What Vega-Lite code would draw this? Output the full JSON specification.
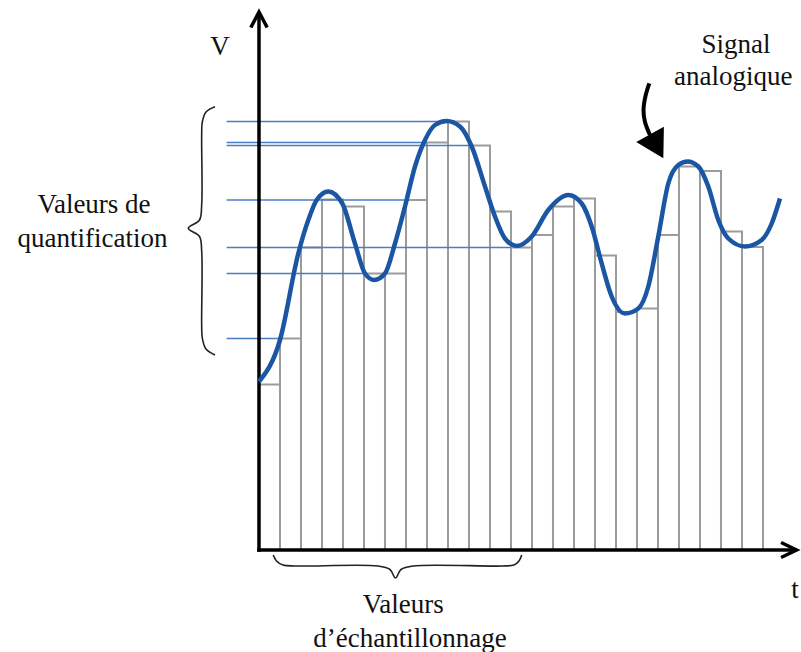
{
  "$schema": "https://vega.github.io/schema/vega-lite/v6.json",
  "width": 801,
  "height": 652,
  "autosize": {"type": "none"},
  "padding": 0,
  "background": "white",
  "config": {"view": {"stroke": null}},
  "datasets": {
    "bars": [
      {"t": 0, "t2": 1, "v": 3.31}, {"t": 1, "t2": 2, "v": 4.23}, {"t": 2, "t2": 3, "v": 6.05},
      {"t": 3, "t2": 4, "v": 7.01}, {"t": 4, "t2": 5, "v": 6.87}, {"t": 5, "t2": 6, "v": 5.53},
      {"t": 6, "t2": 7, "v": 5.53}, {"t": 7, "t2": 8, "v": 7.0}, {"t": 8, "t2": 9, "v": 8.15},
      {"t": 9, "t2": 10, "v": 8.57}, {"t": 10, "t2": 11, "v": 8.09}, {"t": 11, "t2": 12, "v": 6.77},
      {"t": 12, "t2": 13, "v": 6.05}, {"t": 13, "t2": 14, "v": 6.3}, {"t": 14, "t2": 15, "v": 6.87},
      {"t": 15, "t2": 16, "v": 7.03}, {"t": 16, "t2": 17, "v": 5.89}, {"t": 17, "t2": 18, "v": 4.76},
      {"t": 18, "t2": 19, "v": 4.83}, {"t": 19, "t2": 20, "v": 6.3}, {"t": 20, "t2": 21, "v": 7.67},
      {"t": 21, "t2": 22, "v": 7.58}, {"t": 22, "t2": 23, "v": 6.37}, {"t": 23, "t2": 24, "v": 6.06}
    ],
    "quant": [
      {"t": -1.54, "t2": 9, "v": 8.57}, {"t": -1.54, "t2": 8, "v": 8.15}, {"t": -1.54, "t2": 10, "v": 8.09},
      {"t": -1.54, "t2": 7, "v": 7.0}, {"t": -1.54, "t2": 12, "v": 6.05}, {"t": -1.54, "t2": 5, "v": 5.53},
      {"t": -1.54, "t2": 1, "v": 4.23}
    ],
    "axes": [
      {"t": 0, "t2": 25.5, "v": 0, "v2": 0},
      {"t": 0, "t2": 0, "v": 0, "v2": 10.7}
    ],
    "heads": [
      {"g": "x", "o": 1, "t": 24.86, "v": 0.15}, {"g": "x", "o": 2, "t": 25.6, "v": 0}, {"g": "x", "o": 3, "t": 24.86, "v": -0.15},
      {"g": "y", "o": 1, "t": -0.39, "v": 10.45}, {"g": "y", "o": 2, "t": 0, "v": 10.76}, {"g": "y", "o": 3, "t": 0.39, "v": 10.45}
    ],
    "curve": [
      {"t": 0, "v": 3.37}, {"t": 1.0, "v": 4.2}, {"t": 1.871, "v": 5.93}, {"t": 2.348, "v": 6.6},
      {"t": 2.748, "v": 7.0}, {"t": 3.3, "v": 7.17}, {"t": 3.967, "v": 6.93}, {"t": 4.571, "v": 6.13},
      {"t": 5.048, "v": 5.53}, {"t": 5.49, "v": 5.4}, {"t": 6.0, "v": 5.53}, {"t": 6.476, "v": 6.13},
      {"t": 6.952, "v": 6.87}, {"t": 7.429, "v": 7.67}, {"t": 7.905, "v": 8.2}, {"t": 8.381, "v": 8.5},
      {"t": 8.938, "v": 8.58}, {"t": 9.571, "v": 8.47}, {"t": 10.129, "v": 8.07}, {"t": 10.762, "v": 7.27},
      {"t": 11.238, "v": 6.67}, {"t": 11.714, "v": 6.23}, {"t": 12.271, "v": 6.08}, {"t": 12.986, "v": 6.27},
      {"t": 13.776, "v": 6.8}, {"t": 14.729, "v": 7.1}, {"t": 15.367, "v": 6.93}, {"t": 15.843, "v": 6.47},
      {"t": 16.319, "v": 5.73}, {"t": 16.795, "v": 5.07}, {"t": 17.429, "v": 4.73}, {"t": 18.062, "v": 4.83},
      {"t": 18.538, "v": 5.27}, {"t": 19.014, "v": 6.27}, {"t": 19.49, "v": 7.33}, {"t": 19.967, "v": 7.7},
      {"t": 20.414, "v": 7.77}, {"t": 20.919, "v": 7.67}, {"t": 21.395, "v": 7.27}, {"t": 21.871, "v": 6.6},
      {"t": 22.348, "v": 6.23}, {"t": 23.143, "v": 6.07}, {"t": 23.938, "v": 6.2}, {"t": 24.414, "v": 6.53},
      {"t": 24.81, "v": 7.03}
    ],
    "braces": [
      {"g": "L", "o": 1, "t": -2.095, "v": 8.866}, {"g": "L", "o": 2, "t": -2.524, "v": 8.76},
      {"g": "L", "o": 3, "t": -2.7, "v": 8.56}, {"g": "L", "o": 4, "t": -2.729, "v": 8.3},
      {"g": "L", "o": 5, "t": -2.729, "v": 6.9}, {"g": "L", "o": 6, "t": -2.833, "v": 6.6},
      {"g": "L", "o": 7, "t": -3.367, "v": 6.434}, {"g": "L", "o": 8, "t": -2.833, "v": 6.27},
      {"g": "L", "o": 9, "t": -2.729, "v": 5.98}, {"g": "L", "o": 10, "t": -2.729, "v": 4.5},
      {"g": "L", "o": 11, "t": -2.7, "v": 4.24}, {"g": "L", "o": 12, "t": -2.524, "v": 4.02},
      {"g": "L", "o": 13, "t": -2.095, "v": 3.9},
      {"g": "B", "o": 1, "t": 0.681, "v": -0.1}, {"g": "B", "o": 2, "t": 0.833, "v": -0.22},
      {"g": "B", "o": 3, "t": 1.143, "v": -0.3}, {"g": "B", "o": 4, "t": 1.714, "v": -0.32},
      {"g": "B", "o": 5, "t": 5.667, "v": -0.32}, {"g": "B", "o": 6, "t": 6.238, "v": -0.39},
      {"g": "B", "o": 7, "t": 6.5, "v": -0.56}, {"g": "B", "o": 8, "t": 6.762, "v": -0.39},
      {"g": "B", "o": 9, "t": 7.333, "v": -0.32}, {"g": "B", "o": 10, "t": 11.571, "v": -0.32},
      {"g": "B", "o": 11, "t": 12.143, "v": -0.3}, {"g": "B", "o": 12, "t": 12.381, "v": -0.22},
      {"g": "B", "o": 13, "t": 12.51, "v": -0.1}
    ],
    "arrow": [
      {"o": 1, "t": 18.586, "v": 9.334}, {"o": 2, "t": 18.405, "v": 9.08}, {"o": 3, "t": 18.31, "v": 8.8},
      {"o": 4, "t": 18.381, "v": 8.56}, {"o": 5, "t": 18.619, "v": 8.3}
    ],
    "arrowhead": [{"t": 18.938, "v": 8.074}],
    "labels": [
      {"t": -1.857, "v": 9.9, "label": "V"},
      {"t": 25.52, "v": -0.96, "label": "t"},
      {"t": -7.857, "v": 6.746, "label": "Valeurs de"},
      {"t": -7.929, "v": 6.066, "label": "quantification"},
      {"t": 6.871, "v": -1.254, "label": "Valeurs"},
      {"t": 7.19, "v": -1.94, "label": "d’échantillonnage"},
      {"t": 22.714, "v": 9.946, "label": "Signal"},
      {"t": 22.586, "v": 9.3, "label": "analogique"}
    ]
  },
  "encoding": {
    "x": {"field": "t", "type": "quantitative", "scale": {"domain": [-12.333, 25.81], "nice": false, "zero": false}, "axis": null},
    "y": {"field": "v", "type": "quantitative", "scale": {"domain": [-2.04, 11], "nice": false, "zero": false}, "axis": null}
  },
  "layer": [
    {
      "data": {"name": "bars"},
      "mark": {"type": "rect", "fill": "white", "stroke": "#9c9c9c", "strokeWidth": 2},
      "encoding": {"x2": {"field": "t2"}, "y2": {"datum": 0}}
    },
    {
      "data": {"name": "quant"},
      "mark": {"type": "rule", "color": "#4a7ec4", "strokeWidth": 1.5},
      "encoding": {"x2": {"field": "t2"}}
    },
    {
      "data": {"name": "axes"},
      "mark": {"type": "rule", "color": "black", "strokeWidth": 3.5, "strokeCap": "square"},
      "encoding": {"x2": {"field": "t2"}, "y2": {"field": "v2"}}
    },
    {
      "data": {"name": "heads"},
      "mark": {"type": "line", "color": "black", "strokeWidth": 3.5, "strokeJoin": "miter"},
      "encoding": {"detail": {"field": "g"}, "order": {"field": "o", "type": "quantitative"}}
    },
    {
      "data": {"name": "curve"},
      "mark": {"type": "line", "color": "#1b56a4", "strokeWidth": 4.5, "interpolate": "monotone"},
      "encoding": {}
    },
    {
      "data": {"name": "braces"},
      "mark": {"type": "line", "color": "#222222", "strokeWidth": 1.6, "interpolate": "catmull-rom"},
      "encoding": {"detail": {"field": "g"}, "order": {"field": "o", "type": "quantitative"}}
    },
    {
      "data": {"name": "arrow"},
      "mark": {"type": "line", "color": "black", "strokeWidth": 4, "interpolate": "catmull-rom"},
      "encoding": {"order": {"field": "o", "type": "quantitative"}}
    },
    {
      "data": {"name": "arrowhead"},
      "mark": {"type": "point", "shape": "triangle-down", "size": 1000, "angle": -29, "filled": true, "color": "black", "opacity": 1},
      "encoding": {}
    },
    {
      "data": {"name": "labels"},
      "mark": {"type": "text", "font": "'Liberation Serif', 'Times New Roman', serif", "fontSize": 27, "color": "#111111", "align": "center", "baseline": "alphabetic"},
      "encoding": {"text": {"field": "label"}}
    }
  ]
}
